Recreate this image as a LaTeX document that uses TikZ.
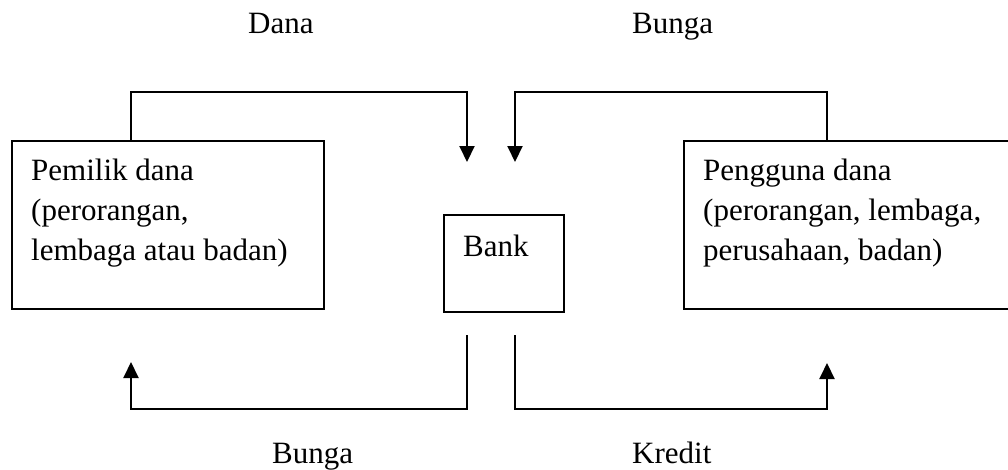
\documentclass[tikz,border=0pt]{standalone}
\usepackage{fontspec}
\setmainfont{Liberation Serif}
\usetikzlibrary{arrows.meta}
\begin{document}
\begin{tikzpicture}[x=1pt,y=-1pt,
  box/.style={draw, line width=2.4pt, rectangle, inner sep=0pt, anchor=north west},
  bankbox/.style={draw, line width=1.6pt, rectangle, inner sep=0pt, anchor=north west, minimum width=120pt, minimum height=97pt},
  txt/.style={font=\fontsize{31}{40}\selectfont, inner sep=0pt, anchor=base west, align=left},
  flow/.style={line width=2pt, -{Triangle[length=16pt,width=15pt]}}]
\useasboundingbox (0,0) rectangle (1008,469);
\clip (0,0) rectangle (1008,469);
% boxes
\node[box, minimum width=312pt, minimum height=168pt] (left) at (11,140) {};
\node[box, minimum width=340pt, minimum height=168pt] (right) at (683,140) {};
\node[bankbox] (bank) at (443,214) {};
% texts (base = baseline of last line)
\node[txt] (lefttext) at (31,260) {Pemilik dana\\(perorangan,\\lembaga atau badan)};
\node[txt] (righttext) at (703,260) {Pengguna dana\\(perorangan, lembaga,\\perusahaan, badan)};
\node[txt] (banktext) at (463,256) {Bank};
\node[txt] (dana) at (248,33) {Dana};
\node[txt] (bungatop) at (632,33) {Bunga};
\node[txt] (bungabot) at (272,463) {Bunga};
\node[txt] (kredit) at (632,463) {Kredit};
% connector helpers
\coordinate (lx) at (131,0);
\coordinate (rx) at (827,0);
\coordinate (top) at (0,92);
\coordinate (bot) at (0,409);
\coordinate (tl) at (467,162);
\coordinate (tr) at (515,162);
\coordinate (bl) at (467,335);
\coordinate (br) at (515,335);
\coordinate (al) at (131,362);
\coordinate (ar) at (827,363);
% connectors
\draw[flow] (lx |- left.north) -- (lx |- top) -- (tl |- top) -- (tl);
\draw[flow] (rx |- right.north) -- (rx |- top) -- (tr |- top) -- (tr);
\draw[flow] (bl) -- (bl |- bot) -- (al |- bot) -- (al);
\draw[flow] (br) -- (br |- bot) -- (ar |- bot) -- (ar);
\end{tikzpicture}
\end{document}
